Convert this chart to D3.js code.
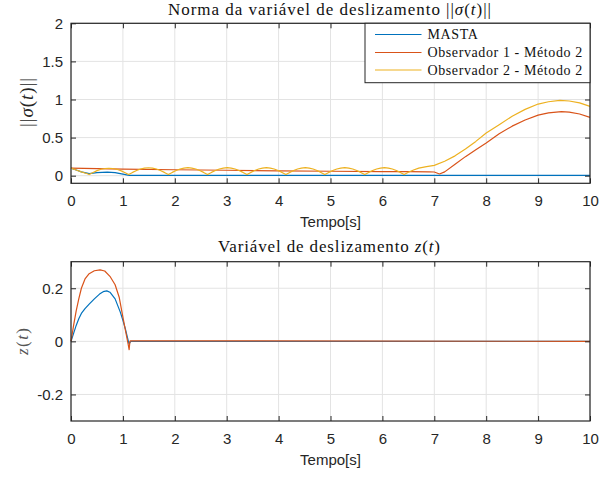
<!DOCTYPE html>
<html>
<head>
<meta charset="utf-8">
<script src="https://cdn.jsdelivr.net/npm/d3@7"></script>
<style>
  html, body { margin: 0; padding: 0; background: #fff; }
  svg { display: block; }
</style>
</head>
<body>
<svg id="chart" width="616" height="477"></svg>
<script>
// ---- Top panel: ||sigma(t)|| ----
const mastaT = [0, 0.1, 0.2, 0.35, 0.5, 0.7, 0.85, 1.0, 1.12, 10];
const mastaV = [0.1, 0.075, 0.05, 0.026, 0.04, 0.047, 0.04, 0.02, 0.004, 0.003];

const obs1T = [0, 0.5, 1, 2, 3, 4, 5, 6, 6.5, 6.9, 7.0, 7.1, 7.2, 7.4, 7.6, 7.8, 8.0, 8.25, 8.5, 8.75, 9.0, 9.2, 9.45, 9.6, 9.8, 10];
const obs1V = [0.1, 0.092, 0.086, 0.078, 0.071, 0.064, 0.058, 0.054, 0.052, 0.05, 0.048, 0.022, 0.05, 0.15, 0.25, 0.34, 0.43, 0.55, 0.65, 0.73, 0.795, 0.825, 0.84, 0.835, 0.81, 0.765];

const obs2T = [
  0, 0.1, 0.2, 0.3, 0.35,
  0.426, 0.502, 0.578, 0.654, 0.73, 0.806, 0.882, 0.958, 1.034, 1.11,
  1.187, 1.263, 1.34, 1.416, 1.493, 1.569, 1.646, 1.722, 1.799, 1.875,
  1.951, 2.026, 2.102, 2.177, 2.253, 2.328, 2.404, 2.479, 2.555, 2.63,
  2.706, 2.782, 2.858, 2.934, 3.01, 3.086, 3.162, 3.238, 3.314, 3.39,
  3.465, 3.54, 3.615, 3.69, 3.765, 3.84, 3.915, 3.99, 4.065, 4.14,
  4.215, 4.29, 4.365, 4.44, 4.515, 4.59, 4.665, 4.74, 4.815, 4.89,
  4.967, 5.044, 5.121, 5.198, 5.275, 5.352, 5.429, 5.506, 5.583, 5.66,
  5.736, 5.812, 5.888, 5.964, 6.04, 6.116, 6.192, 6.268, 6.344, 6.42,
  6.5, 6.6, 6.7, 6.85, 7.0, 7.2, 7.4, 7.6, 7.8, 8.0, 8.25, 8.5, 8.75, 9.0, 9.2, 9.42, 9.6, 9.8, 10
];
const obs2V = [
  0.1, 0.075, 0.05, 0.028, 0.015,
  0.042, 0.066, 0.084, 0.094, 0.097, 0.094, 0.084, 0.066, 0.042, 0.015,
  0.043, 0.068, 0.088, 0.1, 0.104, 0.1, 0.088, 0.068, 0.043, 0.015,
  0.043, 0.068, 0.088, 0.1, 0.105, 0.1, 0.088, 0.068, 0.043, 0.015,
  0.043, 0.068, 0.088, 0.1, 0.105, 0.1, 0.088, 0.068, 0.043, 0.015,
  0.043, 0.068, 0.088, 0.1, 0.106, 0.1, 0.088, 0.068, 0.043, 0.015,
  0.043, 0.068, 0.088, 0.1, 0.106, 0.1, 0.088, 0.068, 0.043, 0.015,
  0.043, 0.068, 0.088, 0.1, 0.106, 0.1, 0.088, 0.068, 0.043, 0.015,
  0.043, 0.068, 0.088, 0.1, 0.106, 0.1, 0.088, 0.068, 0.043, 0.015,
  0.045, 0.075, 0.1, 0.12, 0.135, 0.19, 0.26, 0.35, 0.45, 0.56, 0.67, 0.78, 0.87, 0.94, 0.97, 0.988, 0.98, 0.955, 0.91
];

// ---- Bottom panel: z(t) ----
const zBlueT = [0, 0.05, 0.1, 0.15, 0.2, 0.27, 0.35, 0.45, 0.55, 0.62, 0.69, 0.75, 0.85, 0.95, 1.0, 1.05, 1.1, 1.12, 1.15, 10];
const zBlueV = [0, 0.03, 0.06, 0.085, 0.105, 0.123, 0.14, 0.16, 0.178, 0.187, 0.19, 0.185, 0.16, 0.11, 0.079, 0.045, 0.005, -0.01, 0, 0];

const zRedT = [0, 0.05, 0.1, 0.15, 0.2, 0.27, 0.35, 0.45, 0.56, 0.65, 0.75, 0.85, 0.93, 1.0, 1.05, 1.1, 1.12, 1.135, 1.15, 10];
const zRedV = [0, 0.06, 0.115, 0.16, 0.2, 0.235, 0.255, 0.266, 0.269, 0.265, 0.245, 0.213, 0.165, 0.091, 0.04, -0.01, -0.031, 0.0, 0.002, 0];

const xTicks = [0, 1, 2, 3, 4, 5, 6, 7, 8, 9, 10];
const yTicksTop = [0, 0.5, 1, 1.5, 2];
const yTickLabelsTop = ["0", "0.5", "1", "1.5", "2"];
const yTicksBottom = [-0.2, 0, 0.2];
const yTickLabelsBottom = ["-0.2", "0", "0.2"];
const legendNames = ["MASTA", "Observador 1 - Método 2", "Observador 2 - Método 2"];

const colors = ["#0072BD", "#D95319", "#EDB120"];
const axisColor = "#262626";
const gridColor = "#e3e3e3";

const svg = d3.select("#chart");
const plotLeft = 71, plotRight = 590;

function zip(ts, vs) { return ts.map((t, i) => [t, vs[i]]); }

function panel(cfg) {
  const x = d3.scaleLinear().domain([0, 10]).range([plotLeft, plotRight]);
  const y = d3.scaleLinear().domain(cfg.yDomain).range([cfg.bottom, cfg.top]);
  const g = svg.append("g");

  // grid
  g.append("g").selectAll("line").data(xTicks).join("line")
    .attr("x1", d => x(d)).attr("x2", d => x(d))
    .attr("y1", cfg.top).attr("y2", cfg.bottom)
    .attr("stroke", gridColor).attr("stroke-width", 1);
  g.append("g").selectAll("line").data(cfg.yTicks).join("line")
    .attr("y1", d => y(d)).attr("y2", d => y(d))
    .attr("x1", plotLeft).attr("x2", plotRight)
    .attr("stroke", gridColor).attr("stroke-width", 1);

  // series
  const line = d3.line().x(d => x(d[0])).y(d => y(d[1]));
  cfg.series.forEach(s => {
    g.append("path").datum(zip(s.t, s.v))
      .attr("d", line).attr("fill", "none")
      .attr("stroke", s.color).attr("stroke-width", 1.2)
      .attr("stroke-linejoin", "round");
  });

  // axes (ticks pointing inward, box on all sides)
  const tl = 5;
  const xb = d3.axisBottom(x).tickValues(xTicks).tickSize(-tl).tickPadding(12).tickFormat(d3.format("d"));
  const xt = d3.axisTop(x).tickValues(xTicks).tickSize(-tl).tickFormat("");
  const yl = d3.axisLeft(y).tickValues(cfg.yTicks).tickSize(-tl).tickPadding(8)
    .tickFormat((d, i) => cfg.yLabels[i]);
  const yr = d3.axisRight(y).tickValues(cfg.yTicks).tickSize(-tl).tickFormat("");

  function style(sel) {
    sel.selectAll(".tick line").attr("stroke", axisColor).attr("stroke-width", 1);
    sel.selectAll(".tick text").attr("fill", axisColor)
      .style("font-family", "'Liberation Sans', Arial, sans-serif").style("font-size", "15px");
  }
  g.append("g").attr("transform", `translate(0,${cfg.bottom})`).call(xb).call(style);
  g.append("g").attr("transform", `translate(0,${cfg.top})`).call(xt).call(style);
  g.append("g").attr("transform", `translate(${plotLeft},0)`).call(yl).call(style);
  g.append("g").attr("transform", `translate(${plotRight},0)`).call(yr).call(style);
  g.selectAll(".domain").remove();
  g.append("rect").attr("x", plotLeft).attr("y", cfg.top)
    .attr("width", plotRight - plotLeft).attr("height", cfg.bottom - cfg.top)
    .attr("fill", "none").attr("stroke", axisColor).attr("stroke-width", 1.2);

  // x label
  g.append("text").attr("x", (plotLeft + plotRight) / 2).attr("y", cfg.bottom + 38)
    .attr("text-anchor", "middle").attr("dominant-baseline", "central")
    .attr("fill", axisColor)
    .style("font-family", "'Liberation Sans', Arial, sans-serif").style("font-size", "15px")
    .text("Tempo[s]");

  return { x, y, g };
}

const serif = "'Liberation Serif', 'DejaVu Serif', serif";

// Top panel
const topPanel = panel({
  top: 23.3, bottom: 183.3, yDomain: [-0.1, 2],
  yTicks: yTicksTop, yLabels: yTickLabelsTop,
  series: [
    { t: mastaT, v: mastaV, color: colors[0] },
    { t: obs1T, v: obs1V, color: colors[1] },
    { t: obs2T, v: obs2V, color: colors[2] }
  ]
});

// Top title (wide serif setting)
const t1 = svg.append("text").attr("x", 329.5).attr("y", 9)
  .attr("text-anchor", "middle").attr("dominant-baseline", "central")
  .attr("textLength", 323).attr("lengthAdjust", "spacing")
  .attr("fill", "#111").style("font-family", serif).style("font-size", "17px");
t1.append("tspan").text("Norma da variável de deslizamento ||");
t1.append("tspan").attr("font-style", "italic").text("σ");
t1.append("tspan").text("(");
t1.append("tspan").attr("font-style", "italic").text("t");
t1.append("tspan").text(")||");

// Top y label
const yl1 = svg.append("text").attr("transform", "translate(26,102.5) rotate(-90)")
  .attr("text-anchor", "middle").attr("dominant-baseline", "central")
  .attr("textLength", 49).attr("lengthAdjust", "spacing")
  .attr("fill", axisColor).style("font-family", serif).style("font-size", "19px");
yl1.append("tspan").text("||");
yl1.append("tspan").attr("font-style", "italic").text("σ");
yl1.append("tspan").text("(");
yl1.append("tspan").attr("font-style", "italic").text("t");
yl1.append("tspan").text(")||");

// Legend
const lg = svg.append("g");
lg.append("rect").attr("x", 365).attr("y", 23.3).attr("width", 225).attr("height", 59.4)
  .attr("fill", "#fff").attr("stroke", axisColor).attr("stroke-width", 1);
const rowY = [34.5, 52.5, 70];
legendNames.forEach((name, i) => {
  lg.append("line").attr("x1", 375).attr("x2", 421.5).attr("y1", rowY[i]).attr("y2", rowY[i])
    .attr("stroke", colors[i]).attr("stroke-width", 1.2);
  lg.append("text").attr("x", 427.5).attr("y", rowY[i])
    .attr("dominant-baseline", "central").attr("fill", "#111")
    .style("letter-spacing", "0.6px")
    .style("font-family", serif).style("font-size", "14px").text(name);
});

// Bottom panel
const botPanel = panel({
  top: 261.7, bottom: 421, yDomain: [-0.3, 0.3],
  yTicks: yTicksBottom, yLabels: yTickLabelsBottom,
  series: [
    { t: zBlueT, v: zBlueV, color: colors[0] },
    { t: zRedT, v: zRedV, color: colors[1] }
  ]
});

const t2 = svg.append("text").attr("x", 329).attr("y", 246)
  .attr("text-anchor", "middle").attr("dominant-baseline", "central")
  .attr("textLength", 222).attr("lengthAdjust", "spacing")
  .attr("fill", "#111").style("font-family", serif).style("font-size", "17px");
t2.append("tspan").text("Variável de deslizamento ");
t2.append("tspan").attr("font-style", "italic").text("z");
t2.append("tspan").text("(");
t2.append("tspan").attr("font-style", "italic").text("t");
t2.append("tspan").text(")");

const yl2 = svg.append("text").attr("transform", "translate(22,341.5) rotate(-90)")
  .attr("text-anchor", "middle").attr("dominant-baseline", "central")
  .attr("textLength", 27).attr("lengthAdjust", "spacing")
  .attr("fill", "#555").style("font-family", serif).style("font-size", "17px");
yl2.append("tspan").attr("font-style", "italic").text("z");
yl2.append("tspan").text("(");
yl2.append("tspan").attr("font-style", "italic").text("t");
yl2.append("tspan").text(")");
</script>
</body>
</html>
